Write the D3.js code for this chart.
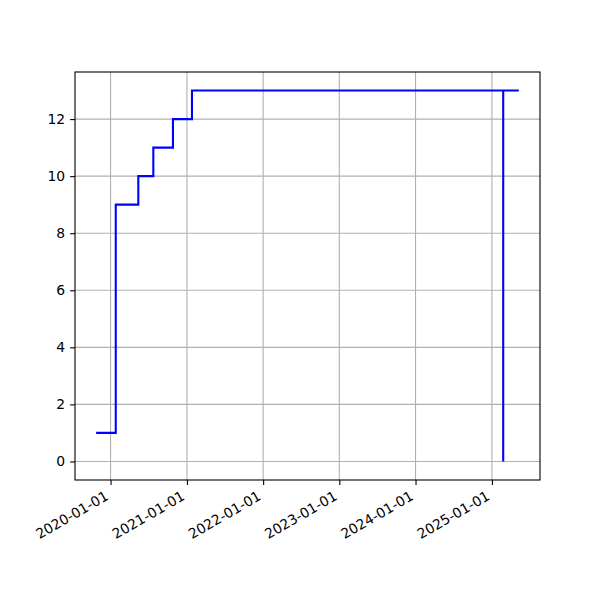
<!DOCTYPE html>
<html><head><meta charset="utf-8">
<script src="https://cdn.jsdelivr.net/npm/d3@7"></script>
<style>body{margin:0;background:#fff}svg{display:block}</style>
</head><body>
<svg id="c" width="600" height="600"></svg>
<script>
const dates = ["2019-10-24","2020-01-26","2020-05-13","2020-07-24","2020-10-26","2021-01-25","2025-05-10","2025-02-24"];
const values = [1,9,10,11,12,13,13,0];
const xTicks = ["2020-01-01","2021-01-01","2022-01-01","2023-01-01","2024-01-01","2025-01-01"];
const yTicks = [0,2,4,6,8,10,12];

const parse = d3.utcParse("%Y-%m-%d");
const fmt = d3.utcFormat("%Y-%m-%d");
const data = dates.map((d,i)=>({date:parse(d), value:values[i]}));

const L=75, R=540, T=72, B=480;
const fontSize = 13.9;
const svg = d3.select("#c");
svg.append("rect").attr("width",600).attr("height",600).attr("fill","#fff");

const [dmin,dmax] = d3.extent(data,d=>d.date);
const span = dmax - dmin;
const x = d3.scaleUtc().domain([new Date(+dmin - span*0.05), new Date(+dmax + span*0.05)]).range([L,R]);
const [vmin,vmax] = d3.extent(values);
const vs = vmax-vmin;
const y = d3.scaleLinear().domain([vmin - vs*0.05, vmax + vs*0.05]).range([B,T]);

const g = svg.append("g");
// grid
g.selectAll(".gx").data(xTicks).join("line")
  .attr("x1",d=>x(parse(d))).attr("x2",d=>x(parse(d))).attr("y1",T).attr("y2",B)
  .attr("stroke","#b0b0b0").attr("stroke-width",1.1);
g.selectAll(".gy").data(yTicks).join("line")
  .attr("y1",d=>y(d)).attr("y2",d=>y(d)).attr("x1",L).attr("x2",R)
  .attr("stroke","#b0b0b0").attr("stroke-width",1.1);

// line
const line = d3.line().x(d=>x(d.date)).y(d=>y(d.value)).curve(d3.curveStepAfter);
svg.append("path").datum(data).attr("d",line).attr("fill","none")
  .attr("stroke","#0000ff").attr("stroke-width",2.1).attr("stroke-linejoin","miter").attr("stroke-linecap","butt");

// axes
const xAxis = d3.axisBottom(x).tickValues(xTicks.map(parse)).tickFormat(fmt).tickSize(4.9).tickPadding(4.9);
const gx = svg.append("g").attr("transform",`translate(0,${B})`).call(xAxis);
gx.select(".domain").remove();
gx.selectAll(".tick line").attr("stroke","#000").attr("stroke-width",1.1);
gx.selectAll(".tick text").attr("font-family","DejaVu Sans").attr("font-size",fontSize).attr("fill","#000")
  .attr("text-anchor","end").attr("dy",null).attr("y",null)
  .attr("transform",`translate(${-0.5*0.24*fontSize},${4.9+4.9+0.866*0.76*fontSize}) rotate(-30)`);

const yAxis = d3.axisLeft(y).tickValues(yTicks).tickSize(4.9).tickPadding(4.9);
const gy = svg.append("g").attr("transform",`translate(${L},0)`).call(yAxis);
gy.select(".domain").remove();
gy.selectAll(".tick line").attr("stroke","#000").attr("stroke-width",1.1);
gy.selectAll(".tick text").attr("font-family","DejaVu Sans").attr("font-size",fontSize).attr("fill","#000");

svg.append("rect").attr("x",L).attr("y",T).attr("width",R-L).attr("height",B-T)
  .attr("fill","none").attr("stroke","#000").attr("stroke-width",1.1);
</script>
</body></html>
